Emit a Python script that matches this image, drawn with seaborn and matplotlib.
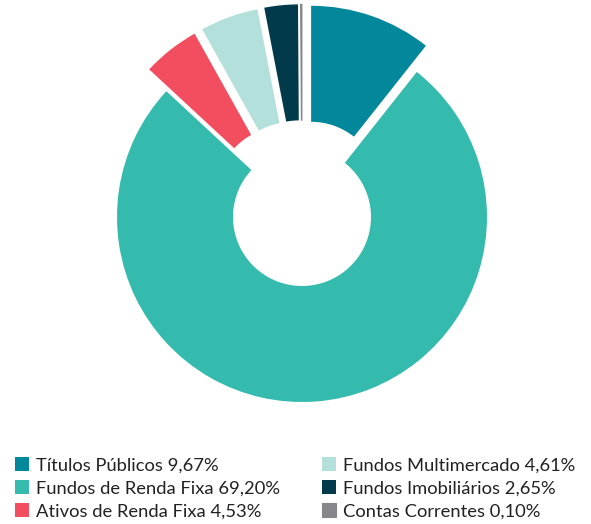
# Composição da carteira - gráfico de rosca
import matplotlib
matplotlib.use("Agg")
import matplotlib.pyplot as plt
import seaborn as sns

# dados
categorias = ["Títulos Públicos", "Fundos de Renda Fixa", "Ativos de Renda Fixa",
              "Fundos Multimercado", "Fundos Imobiliários", "Contas Correntes"]
valores = [9.67, 69.20, 4.53, 4.61, 2.65, 0.10]
cores = ["#02889A", "#35BBAE", "#F24E5F", "#B3E0DA", "#013A4B", "#86868B"]

# fatias destacadas (todas menos a maior)
destaque = [0.15, 0, 0.15, 0.15, 0.15, 0.15]

sns.set_style("white")
plt.rcParams["font.family"] = ["Lato", "DejaVu Sans"]

W, H = 591, 524
fig = plt.figure(figsize=(W / 100, H / 100), dpi=100)

# eixo quadrado: raio 1 = 185 px, centro em (302, 217) px
R = 185
lado = 2.5 * R
cx, cy = 302, H - 217
ax = fig.add_axes([(cx - lado / 2) / W, (cy - lado / 2) / H, lado / W, lado / H])

paleta = sns.color_palette(cores)
fatias, _ = ax.pie(valores, colors=paleta, explode=destaque, startangle=90,
                   counterclock=False, radius=1,
                   wedgeprops=dict(width=(R - 69) / R, linewidth=0))
# a fatia mínima fica quase invisível sem contorno
fatias[-1].set_edgecolor(paleta[-1])
fatias[-1].set_linewidth(0.8)
ax.set_xlim(-1.25, 1.25)
ax.set_ylim(-1.25, 1.25)
ax.set_aspect("equal")
ax.axis("off")

rotulos = [f"{c} {v:.2f}".replace(".", ",") + "%" for c, v in zip(categorias, valores)]

estilo = dict(frameon=False, fontsize=13.2, handlelength=0.77, handleheight=0.77,
              handletextpad=0.38, labelspacing=0.38, borderpad=0, borderaxespad=0,
              labelcolor="#222222", loc="upper left")
leg1 = fig.legend(fatias[:3], rotulos[:3], bbox_to_anchor=(15 / W, 1 - 457 / H), **estilo)
leg2 = fig.legend(fatias[3:], rotulos[3:], bbox_to_anchor=(322 / W, 1 - 457 / H), **estilo)

fig.savefig("out.png", dpi=100)
